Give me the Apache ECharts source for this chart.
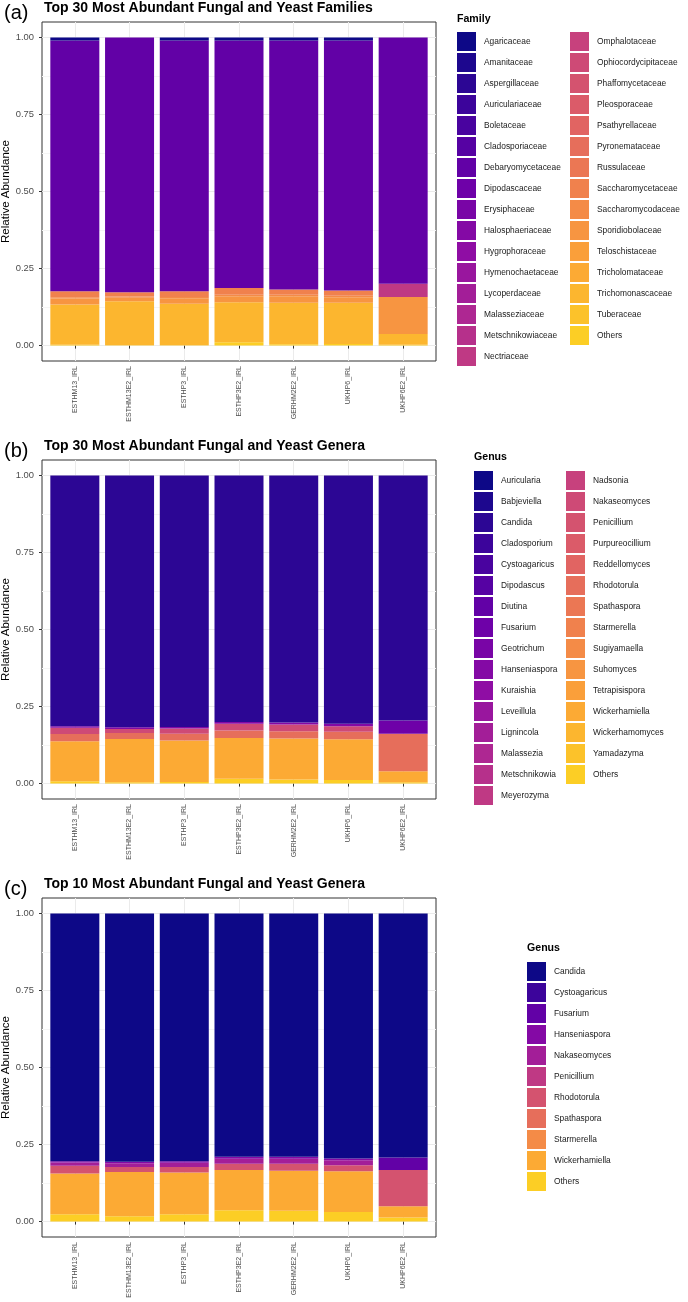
<!DOCTYPE html>
<html>
<head>
<meta charset="utf-8">
<script src="https://cdn.jsdelivr.net/npm/echarts@6/dist/echarts.min.js"></script>
<style>
html, body { margin: 0; padding: 0; background: #fff; }
#chart { width: 688px; height: 1302px; }
</style>
</head>
<body>
<div id="chart"></div>
<script>
var samples = ['ESTHM13_IRL', 'ESTHM13E2_IRL', 'ESTHP3_IRL', 'ESTHP3E2_IRL', 'GERHM2E2_IRL', 'UKHP6_IRL', 'UKHP6E2_IRL'];
var yTicks = [0, 0.25, 0.5, 0.75, 1];
var yMinorTicks = [0.125, 0.375, 0.625, 0.875];

// legend levels, top of the stack first
var families = ['Agaricaceae', 'Amanitaceae', 'Aspergillaceae', 'Auriculariaceae', 'Boletaceae', 'Cladosporiaceae',
    'Debaryomycetaceae', 'Dipodascaceae', 'Erysiphaceae', 'Halosphaeriaceae', 'Hygrophoraceae', 'Hymenochaetaceae',
    'Lycoperdaceae', 'Malasseziaceae', 'Metschnikowiaceae', 'Nectriaceae', 'Omphalotaceae', 'Ophiocordycipitaceae',
    'Phaffomycetaceae', 'Pleosporaceae', 'Psathyrellaceae', 'Pyronemataceae', 'Russulaceae', 'Saccharomycetaceae',
    'Saccharomycodaceae', 'Sporidiobolaceae', 'Teloschistaceae', 'Tricholomataceae', 'Trichomonascaceae', 'Tuberaceae', 'Others'];
var genera30 = ['Auricularia', 'Babjeviella', 'Candida', 'Cladosporium', 'Cystoagaricus', 'Dipodascus', 'Diutina',
    'Fusarium', 'Geotrichum', 'Hanseniaspora', 'Kuraishia', 'Leveillula', 'Lignincola', 'Malassezia', 'Metschnikowia',
    'Meyerozyma', 'Nadsonia', 'Nakaseomyces', 'Penicillium', 'Purpureocillium', 'Reddellomyces', 'Rhodotorula',
    'Spathaspora', 'Starmerella', 'Sugiyamaella', 'Suhomyces', 'Tetrapisispora', 'Wickerhamiella', 'Wickerhamomyces',
    'Yamadazyma', 'Others'];
var genera10 = ['Candida', 'Cystoagaricus', 'Fusarium', 'Hanseniaspora', 'Nakaseomyces', 'Penicillium', 'Rhodotorula',
    'Spathaspora', 'Starmerella', 'Wickerhamiella', 'Others'];

// (a) families
var famAgaricaceae = [0.010, 0, 0.010, 0.010, 0.010, 0.010, 0];
var famDebaryomycetaceae = [0.814, 0.827, 0.814, 0.803, 0.808, 0.811, 0.799];
var famNectriaceae = [0, 0, 0, 0, 0, 0, 0.043];
var famSaccharomycetaceae = [0.019, 0.014, 0.018, 0.022, 0.017, 0.017, 0];
var famSaccharomycodaceae = [0.004, 0.004, 0.004, 0.005, 0.005, 0.005, 0];
var famSporidiobolaceae = [0.020, 0.011, 0.018, 0.019, 0.021, 0.018, 0.120];
var famTrichomonascaceae = [0.130, 0.143, 0.135, 0.130, 0.135, 0.134, 0.035];
var famOthers = [0.003, 0.001, 0.001, 0.011, 0.004, 0.005, 0.003];

// (b) top 30 genera
var genCandida = [0.814, 0.817, 0.816, 0.800, 0.802, 0.806, 0.795];
var genFusarium = [0, 0, 0, 0, 0, 0, 0.043];
var genHanseniaspora = [0.005, 0.006, 0.005, 0.006, 0.006, 0.008, 0];
var genNakaseomyces = [0.020, 0.013, 0.017, 0.022, 0.022, 0.018, 0];
var genRhodotorula = [0.024, 0.019, 0.022, 0.024, 0.024, 0.024, 0.122];
var genWickerhamiella = [0.129, 0.141, 0.135, 0.132, 0.133, 0.132, 0.036];
var genOthers = [0.008, 0.004, 0.005, 0.016, 0.013, 0.012, 0.004];

// (c) top 10 genera
var topCandida = [0.804, 0.806, 0.804, 0.790, 0.790, 0.795, 0.792];
var topFusarium = [0, 0, 0, 0, 0, 0, 0.041];
var topHanseniaspora = [0.004, 0.005, 0.005, 0.006, 0.006, 0.006, 0];
var topNakaseomyces = [0.011, 0.012, 0.014, 0.016, 0.016, 0.016, 0];
var topRhodotorula = [0.025, 0.016, 0.018, 0.021, 0.023, 0.020, 0.117];
var topWickerhamiella = [0.132, 0.144, 0.135, 0.130, 0.130, 0.132, 0.037];
var topOthers = [0.024, 0.017, 0.024, 0.037, 0.035, 0.031, 0.013];

var FONT = '"Liberation Sans", Arial, Helvetica, sans-serif';

// plasma colour map, sampled 0..0.9 like scale_fill_viridis_d(option = "plasma", end = 0.9)
var plasmaStops = ['#0d0887', '#41049d', '#6a00a8', '#8f0da4', '#b12a90', '#cc4778',
    '#e16462', '#f2844b', '#fca636', '#fcce25', '#f0f921'];
function hex(c) {
    return [parseInt(c.substr(1, 2), 16), parseInt(c.substr(3, 2), 16), parseInt(c.substr(5, 2), 16)];
}
function plasma(t) {
    var p = t * (plasmaStops.length - 1);
    var i = Math.min(Math.floor(p), plasmaStops.length - 2);
    var f = p - i;
    var a = hex(plasmaStops[i]), b = hex(plasmaStops[i + 1]);
    return 'rgb(' + a.map(function (v, k) { return Math.round(v + (b[k] - v) * f); }).join(',') + ')';
}
function palette(n) {
    var out = [];
    for (var i = 0; i < n; i++) out.push(plasma(0.9 * i / (n - 1)));
    return out;
}

var panels = [
    {
        key: 'a', tag: '(a)', title: 'Top 30 Most Abundant Fungal and Yeast Families', legendTitle: 'Family',
        names: families, top: 22, legendX: [457, 570], legendTop: 32, legendTitleTop: 14,
        values: {
            Agaricaceae: famAgaricaceae, Debaryomycetaceae: famDebaryomycetaceae, Nectriaceae: famNectriaceae,
            Saccharomycetaceae: famSaccharomycetaceae, Saccharomycodaceae: famSaccharomycodaceae,
            Sporidiobolaceae: famSporidiobolaceae, Trichomonascaceae: famTrichomonascaceae, Others: famOthers
        }
    },
    {
        key: 'b', tag: '(b)', title: 'Top 30 Most Abundant Fungal and Yeast Genera', legendTitle: 'Genus',
        names: genera30, top: 460, legendX: [474, 566], legendTop: 471, legendTitleTop: 452,
        values: {
            Candida: genCandida, Fusarium: genFusarium, Hanseniaspora: genHanseniaspora,
            Nakaseomyces: genNakaseomyces, Rhodotorula: genRhodotorula, Wickerhamiella: genWickerhamiella, Others: genOthers
        }
    },
    {
        key: 'c', tag: '(c)', title: 'Top 10 Most Abundant Fungal and Yeast Genera', legendTitle: 'Genus',
        names: genera10, top: 898, legendX: [527], legendTop: 962, legendTitleTop: 943,
        values: {
            Candida: topCandida, Fusarium: topFusarium, Hanseniaspora: topHanseniaspora,
            Nakaseomyces: topNakaseomyces, Rhodotorula: topRhodotorula, Wickerhamiella: topWickerhamiella, Others: topOthers
        }
    }
];

var xPos = samples.map(function (s, i) { return i + 1; });
var option = {
    backgroundColor: '#fff',
    animation: false,
    textStyle: { fontFamily: FONT },
    title: [], legend: [], grid: [], xAxis: [], yAxis: [], series: []
};

panels.forEach(function (p, pi) {
    var colors = palette(p.names.length);
    option.title.push(
        { text: p.tag, left: 4, top: p.top - 19, padding: 0, textStyle: { fontSize: 20, fontWeight: 'normal', color: '#000', fontFamily: FONT } },
        { text: p.title, left: 44, top: p.top - 21, padding: 0, textStyle: { fontSize: 14, fontWeight: 'bold', color: '#000', fontFamily: FONT } },
        { text: p.legendTitle, left: p.legendX[0], top: p.legendTitleTop, padding: 0, textStyle: { fontSize: 10.6, fontWeight: 'bold', color: '#000', fontFamily: FONT } }
    );
    option.grid.push({
        left: 42, top: p.top, width: 394, height: 339,
        show: true, borderColor: '#333', borderWidth: 1, backgroundColor: '#fff',
        outerBoundsMode: 'none'
    });
    option.xAxis.push({
        gridIndex: pi, type: 'value', min: 0.4, max: 7.6,
        axisLine: { show: false },
        axisTick: { show: true, customValues: xPos, length: 3, lineStyle: { color: '#333' } },
        axisLabel: {
            customValues: xPos, rotate: 90, fontSize: 7, color: '#4d4d4d', margin: 5, fontFamily: FONT,
            formatter: function (v) { return samples[Math.round(v) - 1]; }
        },
        splitLine: { show: true, lineStyle: { color: '#ebebeb', width: 1 } }
    });
    option.yAxis.push({
        gridIndex: pi, type: 'value', min: -0.05, max: 1.05,
        name: 'Relative Abundance', nameLocation: 'middle', nameGap: 30, nameRotate: 90,
        nameMoveOverlap: false,
        nameTextStyle: { fontSize: 11.5, color: '#000', fontFamily: FONT },
        axisLine: { show: false },
        axisTick: { show: true, customValues: yTicks, length: 3, lineStyle: { color: '#333' } },
        axisLabel: {
            customValues: yTicks, fontSize: 9.4, color: '#4d4d4d', margin: 8, fontFamily: FONT,
            formatter: function (v) { return v.toFixed(2); }
        },
        splitLine: { show: true, lineStyle: { color: '#ebebeb', width: 1 } }
    });
    // minor grid lines
    option.yAxis.push({
        gridIndex: pi, type: 'value', min: -0.05, max: 1.05,
        axisLine: { show: false },
        axisTick: { show: false, customValues: yMinorTicks },
        axisLabel: { show: false, customValues: yMinorTicks },
        splitLine: { show: true, lineStyle: { color: '#f5f5f5', width: 1 } }
    });

    // ggplot stacks the first level on top, so add series from the last level up
    for (var k = p.names.length - 1; k >= 0; k--) {
        var name = p.names[k];
        var vals = p.values[name] || samples.map(function () { return 0; });
        option.series.push({
            name: p.key + '|' + name,
            type: 'bar', stack: 'stack' + p.key,
            xAxisIndex: pi, yAxisIndex: pi * 2,
            barWidth: 49,
            // value first so the stack runs along y
            encode: { x: 1, y: 0 },
            itemStyle: { color: colors[k] },
            data: vals.map(function (v, i) { return [v, xPos[i]]; })
        });
    }

    var perCol = p.legendX.length > 1 ? 16 : p.names.length;
    p.legendX.forEach(function (lx, ci) {
        option.legend.push({
            orient: 'vertical', left: lx, top: p.legendTop, padding: 0,
            itemWidth: 19, itemHeight: 19, itemGap: 2, icon: 'rect', selectedMode: false,
            data: p.names.slice(ci * perCol, (ci + 1) * perCol).map(function (n) { return p.key + '|' + n; }),
            formatter: function (n) { return n.split('|')[1]; },
            textStyle: { fontSize: 8.4, color: '#1a1a1a', fontFamily: FONT, padding: [0, 0, 0, 3] }
        });
    });
});

var chart = echarts.init(document.getElementById('chart'));
chart.setOption(option);
</script>
</body>
</html>
